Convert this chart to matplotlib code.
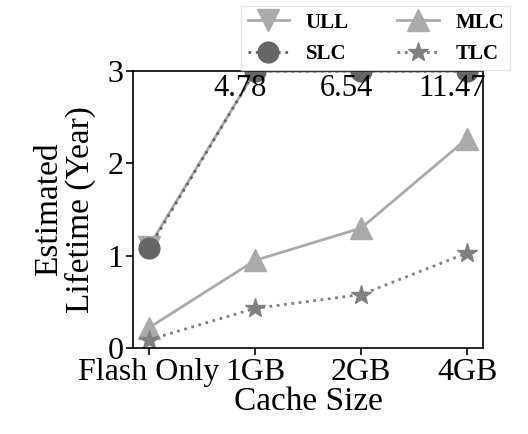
import matplotlib.pyplot as plt
import numpy as np

plt.rcParams['font.family'] = ['Liberation Serif', 'DejaVu Serif']

# data
cache_sizes = ['Flash Only', '1GB', '2GB', '4GB']
ull = [1.10, 4.78, 6.54, 11.47]
slc = [1.08, 4.78, 6.54, 11.47]
mlc = [0.22, 0.95, 1.30, 2.27]
tlc = [0.09, 0.43, 0.58, 1.03]
y_max = 3

x = np.arange(len(cache_sizes))

fig = plt.figure(figsize=(5.28, 4.34), dpi=100)
ax = fig.add_axes([0.252, 0.198, 0.663, 0.638])

h_ull, = ax.plot(x, np.minimum(ull, y_max), color='#aaaaaa', marker='v', ms=16,
                 lw=2, ls='-', label='ULL')
h_mlc, = ax.plot(x, mlc, color='#aaaaaa', marker='^', ms=16,
                 lw=2, ls='-', label='MLC')
h_slc, = ax.plot(x, np.minimum(slc, y_max), color='#666666', marker='o', ms=15,
                 lw=2, ls=':', label='SLC')
h_tlc, = ax.plot(x, tlc, color='#808080', marker='*', ms=15,
                 lw=2, ls=':', label='TLC')

# values above the axis limit
for xi, v in zip(x, slc):
    if v > y_max:
        ax.text(xi - 0.14, 2.81, '%.2f' % v, ha='center', va='center', fontsize=22)

ax.set_ylim(0, y_max)
ax.set_yticks([0, 1, 2, 3])
ax.set_xticks(x)
ax.set_xticklabels(cache_sizes)
ax.tick_params(labelsize=23, length=5, width=1.2, pad=2)
ax.set_xlabel('Cache Size', fontsize=24, labelpad=0)
ax.set_ylabel('Estimated\nLifetime (Year)', fontsize=24, linespacing=1.05, labelpad=8)
for s in ax.spines.values():
    s.set_linewidth(1.2)

leg = fig.legend(handles=[h_ull, h_slc, h_mlc, h_tlc], ncol=2, loc='lower left',
                 bbox_to_anchor=(0.457, 0.838), prop={'weight': 'bold', 'size': 15},
                 frameon=True, fancybox=False, edgecolor='#dddddd', borderaxespad=0,
                 columnspacing=2.3, handletextpad=0.8, labelspacing=0.55,
                 borderpad=0.3)

fig.savefig('out.png', dpi=100)
